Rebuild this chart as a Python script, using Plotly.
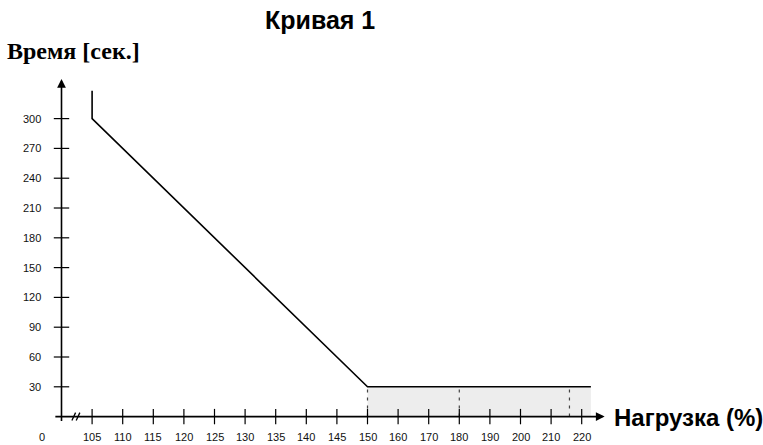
import plotly.graph_objects as go

# ---- data ----
title_text = "Кривая 1"
y_title = "Время [сек.]"
x_title = "Нагрузка (%)"

curve_load = [105, 105, 150, 223]
curve_time = [328, 300, 30, 30]

shade_load = [150, 223]
shade_time = [30, 30]

dashed_loads = [150, 180, 216]
dashed_top = 30

x_tick_values = [105, 110, 115, 120, 125, 130, 135, 140, 145, 150,
                 160, 170, 180, 190, 200, 210, 220]
x_tick_labels = [str(v) for v in x_tick_values]
y_tick_values = [30, 60, 90, 120, 150, 180, 210, 240, 270, 300]
y_tick_labels = [str(v) for v in y_tick_values]
origin_label = "0"


def pos(v):
    # broken (piecewise) load scale: step 5 up to 150, step 10 after
    if v <= 150:
        return (v - 100) / 5.0
    return 10 + (v - 150) / 10.0


W, H = 763, 445
px_per_unit_x = 30.6
x0_px = 61.5
px_per_unit_y = 0.9933
y0_px = 416.6
x_range = [-x0_px / px_per_unit_x, (W - x0_px) / px_per_unit_x]
y_range = [-(H - y0_px) / px_per_unit_y, y0_px / px_per_unit_y]

fig = go.Figure()

# shaded region
fig.add_trace(go.Scatter(
    x=[pos(v) for v in shade_load], y=shade_time, mode="lines",
    line=dict(width=0), fill="tozeroy", fillcolor="#ededed",
    hoverinfo="skip", showlegend=False))

# dashed verticals
for v in dashed_loads:
    fig.add_trace(go.Scatter(
        x=[pos(v), pos(v)], y=[0, dashed_top], mode="lines",
        line=dict(color="#444444", width=1.2, dash="3px,5px"),
        hoverinfo="skip", showlegend=False))

# main curve
fig.add_trace(go.Scatter(
    x=[pos(v) for v in curve_load], y=curve_time, mode="lines",
    line=dict(color="black", width=1.6), hoverinfo="skip", showlegend=False))

# tick marks crossing the axes
fig.add_trace(go.Scatter(
    x=[pos(v) for v in x_tick_values], y=[0] * len(x_tick_values),
    mode="markers",
    marker=dict(symbol="line-ns", size=11, line=dict(color="black", width=1.2)),
    hoverinfo="skip", showlegend=False))
fig.add_trace(go.Scatter(
    x=[0] * len(y_tick_values), y=y_tick_values, mode="markers",
    marker=dict(symbol="line-ew", size=11, line=dict(color="black", width=1.2)),
    hoverinfo="skip", showlegend=False))

# axes with arrows
fig.add_annotation(x=17.75, y=0, ax=-0.25, ay=0, xref="x", yref="y",
                   axref="x", ayref="y", showarrow=True, arrowhead=2,
                   arrowsize=1.1, arrowwidth=1.6, arrowcolor="black", text="")
fig.add_annotation(x=0, y=340, ax=0, ay=-6, xref="x", yref="y",
                   axref="x", ayref="y", showarrow=True, arrowhead=2,
                   arrowsize=1.1, arrowwidth=1.6, arrowcolor="black", text="")

# axis break marks
for dx in [0.4, 0.54]:
    fig.add_shape(type="line", x0=dx - 0.06, y0=-4, x1=dx + 0.06, y1=4,
                  xref="x", yref="y", line=dict(color="black", width=1.3))

tick_font = dict(family="Liberation Sans, Arial", size=11, color="#111111")
for v, t in zip(x_tick_values, x_tick_labels):
    fig.add_annotation(x=pos(v), y=-21, text=t, showarrow=False,
                       xanchor="center", yanchor="middle",
                       xref="x", yref="y", font=tick_font)
fig.add_annotation(x=-0.64, y=-21, text=origin_label, showarrow=False,
                   xanchor="center", yanchor="middle",
                   xref="x", yref="y", font=tick_font)
for v, t in zip(y_tick_values, y_tick_labels):
    fig.add_annotation(x=-0.6, y=v, text=t, showarrow=False, xanchor="right",
                       yanchor="middle", xref="x", yref="y", font=tick_font)

# titles
fig.add_annotation(x=320 / W, y=1 - 20 / H, xref="paper", yref="paper",
                   xanchor="center", yanchor="middle",
                   text="<b>" + title_text + "</b>", showarrow=False,
                   font=dict(family="Liberation Sans, Arial", size=25, color="black"))
fig.add_annotation(x=5 / W, y=1 - 51 / H, xref="paper", yref="paper",
                   xanchor="left", yanchor="middle",
                   text="<b>" + y_title + "</b>", showarrow=False,
                   font=dict(family="Liberation Serif, Times New Roman", size=24, color="black"))
fig.add_annotation(x=612 / W, y=1 - 417 / H, xref="paper", yref="paper",
                   xanchor="left", yanchor="middle",
                   text="<b>" + x_title + "</b>", showarrow=False,
                   font=dict(family="Liberation Sans, Arial", size=24, color="black"))

fig.update_layout(
    width=W, height=H, margin=dict(l=0, r=0, t=0, b=0),
    paper_bgcolor="white", plot_bgcolor="white",
    xaxis=dict(range=x_range, visible=False, fixedrange=True),
    yaxis=dict(range=y_range, visible=False, fixedrange=True),
    showlegend=False,
)

fig.write_html("out.html", config={"displayModeBar": False},
               post_script="document.body.style.margin='0';document.body.style.overflow='hidden';")
